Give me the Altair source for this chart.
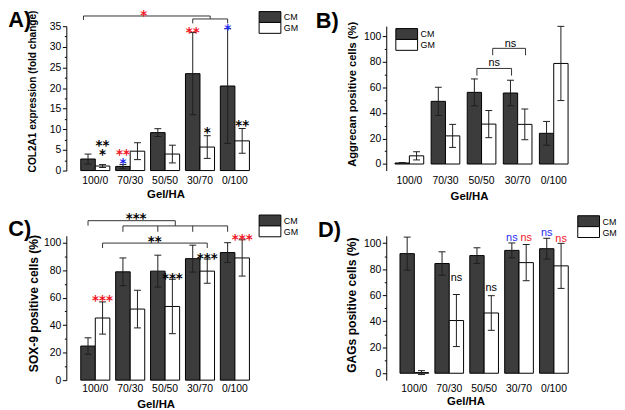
import altair as alt
import pandas as pd

categories = ["100/0", "70/30", "50/50", "30/70", "0/100"]
groups = ["CM", "GM"]

# ---- values ----
a_cm = [2.8, 1.0, 9.2, 23.5, 20.5]
a_cm_err = [1.2, 0.45, 0.95, 9.95, 13.9]
a_gm = [1.1, 4.7, 4.0, 5.7, 7.2]
a_gm_err = [0.35, 2.05, 2.15, 2.75, 3.0]

b_cm = [0.8, 49.0, 56.0, 55.5, 24.0]
b_cm_err = [0.4, 11.0, 10.5, 10.0, 9.3]
b_gm = [6.4, 22.0, 31.2, 31.0, 78.6]
b_gm_err = [3.2, 9.0, 10.6, 12.0, 29.0]

c_cm = [24.8, 78.8, 79.3, 88.4, 92.8]
c_cm_err = [6.0, 10.1, 11.6, 9.8, 7.2]
c_gm = [45.2, 51.7, 53.6, 79.3, 88.9]
c_gm_err = [11.7, 13.7, 19.8, 8.8, 13.2]

d_cm = [91.9, 84.3, 90.4, 94.4, 95.7]
d_cm_err = [12.7, 9.0, 6.0, 5.7, 8.0]
d_gm = [0.5, 40.5, 46.3, 85.0, 82.5]
d_gm_err = [1.5, 20.0, 13.3, 13.9, 17.3]

# significance labels: (category, group or None, shift in category units, value, text, colour)
a_sig = [
    ("100/0", "GM", 0, 7.0, "**", "k"),
    ("100/0", "GM", 0, 4.75, "*", "k"),
    ("70/30", "CM", 0, 4.75, "**", "r"),
    ("70/30", "CM", 0, 2.47, "*", "b"),
    ("30/70", "CM", 0, 34.2, "**", "r"),
    ("0/100", "CM", 0, 35.1, "*", "b"),
    ("30/70", "GM", 0, 10.0, "*", "k"),
    ("0/100", "GM", 0, 11.75, "**", "k"),
    ("50/50", None, -0.61, 38.36, "*", "r"),
]
b_sig = [
    ("50/50", None, 0.35, 79.1, "ns", "k"),
    ("30/70", None, -0.2, 93.4, "ns", "k"),
]
c_sig = [
    ("100/0", "GM", 0, 60.3, "***", "r"),
    ("50/50", "GM", 0, 76.5, "***", "k"),
    ("30/70", "GM", 0, 91.1, "***", "k"),
    ("0/100", "GM", 0, 104.9, "***", "r"),
    ("70/30", None, 0.17, 120.0, "***", "k"),
    ("70/30", None, 0.7, 103.3, "**", "k"),
]
d_sig = [
    ("70/30", "GM", 0, 73.4, "ns", "k"),
    ("50/50", "GM", 0, 65.5, "ns", "k"),
    ("30/70", "CM", 0, 104.1, "ns", "b"),
    ("30/70", "GM", 0, 104.1, "ns", "r"),
    ("0/100", "CM", 0, 107.5, "ns", "b"),
    ("0/100", "GM", 0, 103.5, "ns", "r"),
]

# bracket segments: (start point, start value, end point, end value); point = (category, group, shift)
def bracket_a():
    L = ("100/0", "CM", -0.13); M = ("30/70", "CM", 0.5)
    P = ("30/70", "CM", 0); Q = ("0/100", "CM", 0)
    return [(L, 37.48, M, 37.48), (L, 37.48, L, 36.52), (M, 37.48, M, 36.76),
            (P, 36.76, Q, 36.76), (P, 36.76, P, 35.68), (Q, 36.76, Q, 35.68)]

def bracket_b():
    L1 = ("50/50", "CM", 0.07); R1 = ("30/70", "CM", 0.03)
    L2 = ("50/50", "GM", 0.11); R2 = ("30/70", "GM", 0.02)
    return [(L1, 74.7, R1, 74.7), (L1, 74.7, L1, 69.1), (R1, 74.7, R1, 69.1),
            (L2, 90.4, R2, 90.4), (L2, 90.4, L2, 85.0), (R2, 90.4, R2, 85.0)]

def bracket_c():
    L = ("100/0", "CM", 0); M = ("50/50", "CM", 0.5)
    P = [(c, "CM", 0) for c in categories[1:]]
    G1 = ("100/0", "GM", 0); G4 = ("30/70", "GM", 0)
    segs = [(L, 116.0, M, 116.0), (L, 116.0, L, 112.4), (M, 116.0, M, 112.2),
            (P[0], 112.2, P[-1], 112.2)]
    segs += [(p, 112.2, p, 107.9) for p in P]
    segs += [(G1, 99.7, G4, 99.7), (G1, 99.7, G1, 96.1), (G4, 99.7, G4, 96.1)]
    return segs

FONT = "Liberation Sans"
STAR_FONT = "DejaVu Sans"
CM_FILL = "#3c3c3c"
INK = "#1e1e1e"
COLORS = {"k": "black", "r": "#f0141e", "b": "#1e28f0"}
X_TITLE = "Gel/HA"
H = 146
LEG_W, LEG_H = 22, 11


def panel(letter, cm, cm_err, gm, gm_err, sig, segs, g):
    half = g["bw"] / g["step"]
    ylo, yhi = g["ydom"]

    def xpos(cat, grp, shift):
        base = categories.index(cat)
        if grp == "CM":
            base -= half / 2
        elif grp == "GM":
            base += half / 2
        return base + shift

    def yval(px):  # pixel offset below the plot top -> value on the panel's y scale
        return yhi - px * (yhi - ylo) / H

    rows = []
    for i, cat in enumerate(categories):
        for grp, vals, errs in (("CM", cm, cm_err), ("GM", gm, gm_err)):
            xc = xpos(cat, grp, 0)
            rows.append({"grp": grp, "x0": xc - half / 2, "x1": xc + half / 2, "xc": xc,
                         "v": vals[i], "lo": vals[i] - errs[i], "hi": vals[i] + errs[i],
                         "base": 0.0})
    bars = pd.DataFrame(rows)
    caps = pd.concat([bars[["xc", "lo"]].rename(columns={"lo": "cap"}),
                      bars[["xc", "hi"]].rename(columns={"hi": "cap"})], ignore_index=True)

    xdom = [-g["off"] / g["step"], (g["W"] - g["off"]) / g["step"]]
    xscale = alt.Scale(domain=xdom, nice=False, zero=False)
    yscale = alt.Scale(domain=g["ydom"], nice=False, zero=False)
    fill_scale = alt.Scale(domain=groups, range=[CM_FILL, "white"])
    m = g["major"]
    major_vals = [k * m for k in range(0, int(round(g["ytop"] / m)) + 1)]
    minor_vals = [v + m / 2 for v in major_vals[:-1]]

    yaxis = alt.Axis(
        values=major_vals, tickSize=4,
        tickColor="black", tickWidth=1, domainColor="black", domainWidth=1,
        labelColor="black", labelFontSize=g["ylab_fs"], labelPadding=1.5, labelFont=FONT,
        grid=False, labelOverlap=False, labelFlush=False,
        title=g["ytitle"], titleFont=FONT, titleFontSize=g["yt_fs"], titleFontWeight="bold",
        titleColor="black", titleAngle=270, titleAlign="center", titleBaseline="alphabetic",
        titleX=g["yt_x"], titleY=g["yt_y"])
    yminor = alt.Axis(
        values=minor_vals, orient="left", tickSize=2, tickColor="black", tickWidth=1,
        labels=False, domain=False, grid=False, title=None)
    xaxis = alt.Axis(values=[0, 1, 2, 3, 4], ticks=False, labels=False, domainColor="black",
                     domainWidth=1, grid=False, title=None)

    bar_l = alt.Chart(bars).mark_bar(stroke="black", strokeWidth=1, opacity=1).encode(
        x=alt.X("x0:Q", scale=xscale, axis=xaxis), x2="x1:Q",
        y=alt.Y("base:Q", scale=yscale, axis=yaxis), y2="v:Q",
        fill=alt.Fill("grp:N", scale=fill_scale, legend=None))
    err_l = alt.Chart(bars).mark_rule(color=INK, strokeWidth=1).encode(
        x=alt.X("xc:Q", axis=None), y=alt.Y("lo:Q", axis=yminor), y2="hi:Q")
    cap_l = alt.Chart(caps).mark_tick(orient="horizontal", size=7, thickness=1,
                                      color=INK, opacity=1).encode(
        x=alt.X("xc:Q", axis=None), y=alt.Y("cap:Q", axis=None))
    layers = [bar_l, err_l, cap_l]

    # category labels under the axis, placed by the panel's scales
    cat_df = pd.DataFrame({"i": list(range(len(categories))), "lab": categories,
                           "y": yval(H + g["xlab_pad"])})
    layers.append(alt.Chart(cat_df).mark_text(
        font=FONT, fontSize=10.5, align="center", baseline="alphabetic", color="black").encode(
        x=alt.X("i:Q", axis=None), y=alt.Y("y:Q", axis=None), text="lab:N"))

    if segs:
        sd = pd.DataFrame([{"x": xpos(*p1), "y": y1, "x2": xpos(*p2), "y2": y2}
                           for p1, y1, p2, y2 in segs])
        layers.append(alt.Chart(sd).mark_rule(color="#333333", strokeWidth=1).encode(
            x=alt.X("x:Q", axis=None), x2="x2:Q", y=alt.Y("y:Q", axis=None), y2="y2:Q"))

    sgd = pd.DataFrame([{"x": xpos(c, gr, s), "y": v, "t": t, "c": COLORS[col]}
                        for c, gr, s, v, t, col in sig])
    if g["kind"] == "star":
        txt = dict(font=STAR_FONT, fontSize=13.5, fontWeight="bold", dy=8)
    else:
        txt = dict(font=FONT, fontSize=11, dy=3)
    layers.append(alt.Chart(sgd).mark_text(align="center", baseline="alphabetic", **txt).encode(
        x=alt.X("x:Q", axis=None), y=alt.Y("y:Q", axis=None), text="t:N",
        color=alt.Color("c:N", scale=None)))

    # legend (two stacked swatches with labels)
    lx, ly = g["leg"]
    leg_df = pd.DataFrame({"grp": groups,
                           "y0": [yval(ly + k * LEG_H) for k in range(2)],
                           "y1": [yval(ly + (k + 1) * LEG_H) for k in range(2)],
                           "ym": [yval(ly + k * LEG_H + LEG_H / 2 + 0.5) for k in range(2)]})
    layers.append(alt.Chart(leg_df).mark_rect(stroke="black", strokeWidth=1).encode(
        x=alt.value(lx), x2=alt.value(lx + LEG_W),
        y=alt.Y("y0:Q", axis=None), y2="y1:Q",
        fill=alt.Fill("grp:N", scale=fill_scale, legend=None)))
    layers.append(alt.Chart(leg_df).mark_text(
        font=FONT, fontSize=9, align="left", baseline="middle", color="black").encode(
        x=alt.value(lx + LEG_W + 3), y=alt.Y("ym:Q", axis=None), text="grp:N"))

    # panel letter and x-axis title
    layers.append(alt.Chart(pd.DataFrame({"t": [letter], "y": [yval(g["letter"][1])]})).mark_text(
        font=FONT, fontSize=22, fontWeight="bold", align="left", baseline="alphabetic",
        color="black").encode(text="t:N", x=alt.value(g["letter"][0]), y=alt.Y("y:Q", axis=None)))
    layers.append(alt.Chart(pd.DataFrame({"t": [X_TITLE], "y": [yval(H + g["xt_base"])]})).mark_text(
        font=FONT, fontSize=11.5, fontWeight="bold", align="center", baseline="alphabetic",
        color="black").encode(text="t:N", x=alt.value(g["xt_x"]), y=alt.Y("y:Q", axis=None)))

    return alt.layer(*layers).resolve_axis(y="independent").properties(width=g["W"], height=H)


gA = dict(W=190, off=29.3, step=35.3, bw=14.7, ydom=[0, 35], major=5, ytop=35,
          ytitle="COL2A1 expression (fold change)", yt_fs=10.2, yt_x=-31.2, yt_y=65.5,
          ylab_fs=10.5, xlab_pad=13.4, xt_x=100.8, xt_base=28.2, leg=(195, -14.8),
          letter=(-58.7, 0.7), kind="star")
gB = dict(W=188, off=23.4, step=36.5, bw=14.5, ydom=[-5.1, 107.7], major=20, ytop=100,
          ytitle="Aggrecan positive cells (%)", yt_fs=11.3, yt_x=-31.4, yt_y=68.4,
          ylab_fs=10.5, xlab_pad=13.4, xt_x=84.2, xt_base=29.7, leg=(9.7, 2.4),
          letter=(-71.3, 1.7), kind="ns")
gC = dict(W=190, off=29.3, step=35.3, bw=14.7, ydom=[0, 105], major=20, ytop=100,
          ytitle="SOX-9 positive cells (%)", yt_fs=12.2, yt_x=-29.3, yt_y=68,
          ylab_fs=10.5, xlab_pad=11.5, xt_x=90.8, xt_base=27.7, leg=(195, -21),
          letter=(-58.7, 0.2), kind="star")
gD = dict(W=185, off=28.4, step=35.3, bw=14.5, ydom=[-5.3, 105.6], major=20, ytop=100,
          ytitle="GAGs positive cells (%)", yt_fs=12.2, yt_x=-30.9, yt_y=69.7,
          ylab_fs=10.5, xlab_pad=12.3, xt_x=80.7, xt_base=25.2, leg=(193.7, -20.3),
          letter=(-69, 1.4), kind="ns")

pA = panel("A)", a_cm, a_cm_err, a_gm, a_gm_err, a_sig, bracket_a(), gA)
pB = panel("B)", b_cm, b_cm_err, b_gm, b_gm_err, b_sig, bracket_b(), gB)
pC = panel("C)", c_cm, c_cm_err, c_gm, c_gm_err, c_sig, bracket_c(), gC)
pD = panel("D)", d_cm, d_cm_err, d_gm, d_gm_err, d_sig, [], gD)

chart = alt.concat(pA, pB, pC, pD, columns=2, spacing={"row": 66, "column": 133.6},
                   bounds="flush").properties(
    padding={"left": 0, "top": -1.9, "right": 0, "bottom": 0}
).configure(font=FONT).configure_view(stroke=None)

chart.save("out.html", embed_options={"renderer": "svg", "actions": False})
